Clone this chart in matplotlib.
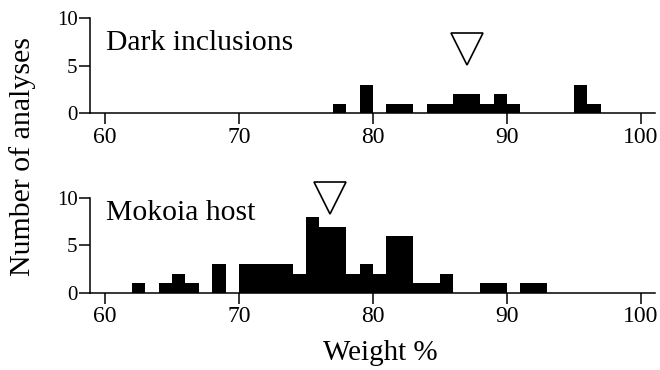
import matplotlib
matplotlib.use('Agg')
import matplotlib.pyplot as plt

plt.rcParams['font.family'] = ['Liberation Serif', 'DejaVu Serif']

# --- data: 1 wt% bins, left edge -> number of analyses ---
dark_edges = [77, 79, 81, 82, 84, 85, 86, 87, 88, 89, 90, 95, 96]
dark_counts = [1, 3, 1, 1, 1, 1, 2, 2, 1, 2, 1, 3, 1]
dark_mean = 87.0

host_edges = [62, 64, 65, 66, 68, 70, 71, 72, 73, 74, 75, 76, 77, 78, 79,
              80, 81, 82, 83, 84, 85, 88, 89, 91, 92]
host_counts = [1, 1, 2, 1, 3, 3, 3, 3, 3, 2, 8, 7, 7, 2, 3,
               2, 6, 6, 1, 1, 2, 1, 1, 1, 1]
host_mean = 76.8

x_ticks = [60, 70, 80, 90, 100]
y_ticks = [0, 5, 10]

fig = plt.figure(figsize=(6.6, 3.7), dpi=100)
ax_top = fig.add_axes([90 / 660, 1 - 113 / 370, 565 / 660, 94.7 / 370])
ax_bot = fig.add_axes([90 / 660, 1 - 292.5 / 370, 565 / 660, 94.2 / 370])

panels = [
    (ax_top, dark_edges, dark_counts, dark_mean, 6.8, 'Dark inclusions', 6.65),
    (ax_bot, host_edges, host_counts, host_mean, 10.05, 'Mokoia host', 7.7),
]

for ax, edges, counts, mean, tri_y, name, name_y in panels:
    ax.bar(edges, counts, width=1.0, align='edge', color='black', linewidth=0)
    ax.plot([mean], [tri_y], marker='v', ms=23, mfc='white', mec='black',
            mew=1.2, clip_on=False, zorder=5)
    ax.text(60.1, name_y, name, fontsize=21.3, va='baseline', ha='left')
    ax.set_xlim(58.88, 101.05)
    ax.set_ylim(0, 10)
    ax.set_xticks(x_ticks)
    ax.set_yticks(y_ticks)
    for side in ['top', 'right']:
        ax.spines[side].set_visible(False)
    for side in ['left', 'bottom']:
        ax.spines[side].set_linewidth(1.1)
    ax.tick_params(direction='out', length=8, width=1.1)
    ax.tick_params(axis='x', labelsize=17, pad=2)
    ax.tick_params(axis='y', labelsize=15, pad=1)

fig.text(23 / 660, 1 - 156.5 / 370, 'Number of analyses', rotation=90,
         fontsize=21.5, ha='center', va='center')
fig.text(380 / 660, 1 - 353 / 370, 'Weight %', fontsize=21,
         ha='center', va='center')

fig.savefig('out.png', dpi=100)
